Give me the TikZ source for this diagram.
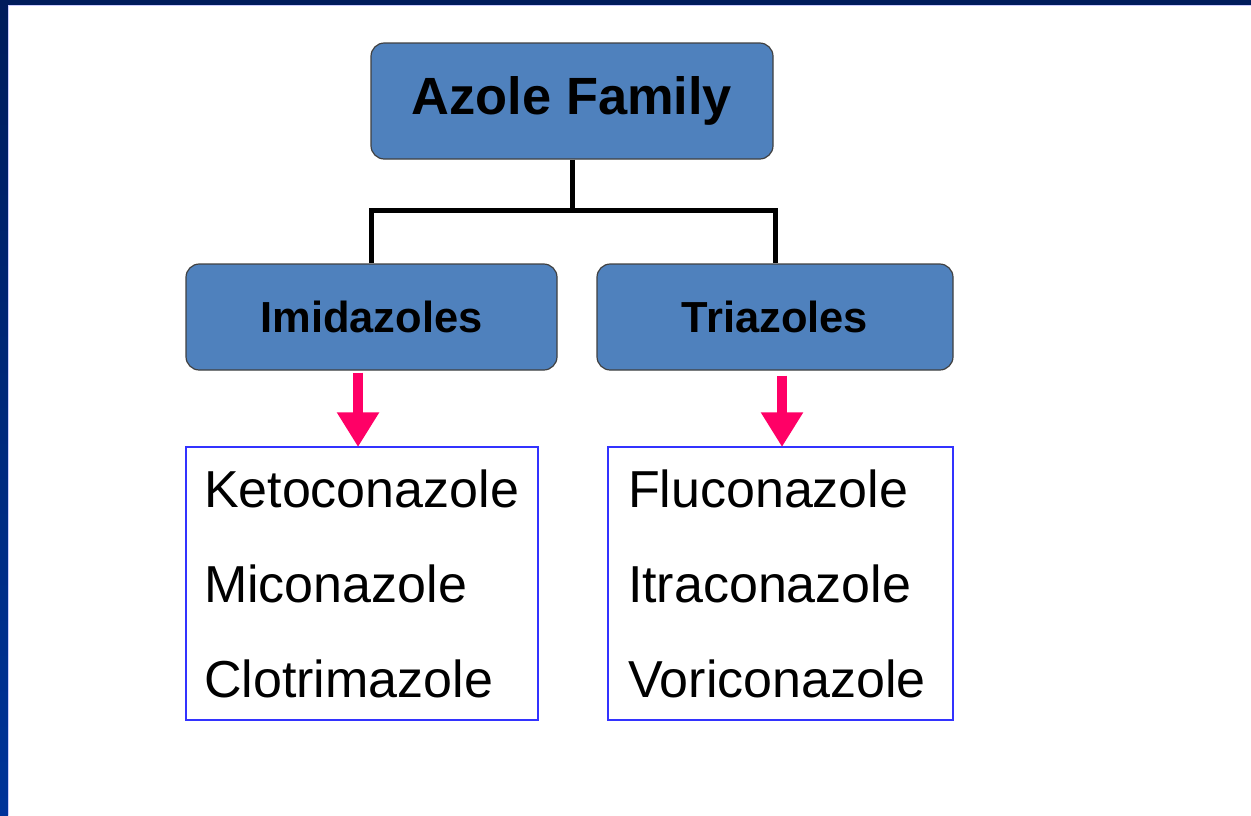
\documentclass[tikz,border=0pt]{standalone}
\usepackage{fontspec}
\setmainfont{Liberation Sans}
\usetikzlibrary{arrows.meta}
\definecolor{azblue}{HTML}{4F81BD}
\definecolor{azpink}{HTML}{FF0066}
\definecolor{azlist}{HTML}{3333FF}
\definecolor{frametop}{HTML}{001C5C}
\definecolor{frameleft}{HTML}{00339A}
\begin{document}
\begin{tikzpicture}[x=0.75pt, y=-0.75pt]
\tikzset{azbox/.style={shape=rectangle, rounded corners=10pt, draw=black!75, line width=0.9pt, fill=azblue, font=\bfseries}}
\tikzset{azlistbox/.style={shape=rectangle, draw=azlist, line width=1.3pt, align=left, anchor=north west, outer sep=0pt, inner xsep=13.5pt, inner ysep=0pt, font=\fontsize{39}{71.25}\selectfont}}
\tikzset{tree/.style={line width=3.75pt, line join=miter}}
\tikzset{azarrow/.style={azpink, line width=7.5pt, -{Triangle[width=30pt, length=26pt]}}}
\useasboundingbox (0,0) rectangle (1251,815);
% slide frame
\shade[top color=frametop, bottom color=frameleft] (0,0) rectangle (8,815);
\fill[frametop] (0,0) rectangle (1251,5);
\draw[blue!20, line width=0.6pt] (8,5) -- (1251,5);
\draw[blue!20, line width=0.6pt] (8,5) -- (8,815);
% family and groups
\node (azole) [azbox, minimum width=301.5pt, minimum height=87pt, font=\fontsize{39.3}{46}\bfseries\selectfont] at (572,101) {Azole Family};
\node (imid) [azbox, minimum width=278.25pt, minimum height=79.5pt, font=\fontsize{32.6}{38}\bfseries\selectfont] at (371.5,317) {Imidazoles};
\node (tria) [azbox, minimum width=267pt, minimum height=79.5pt, font=\fontsize{32.6}{38}\bfseries\selectfont] at (775,317) {Triazoles};
\coordinate (split) at (572,210);
\draw[tree] (azole.south) -- (split);
\draw[tree] (imid.north) |- (split) -| (tria.north);
% drug lists
\node (imidlist) [azlistbox, minimum width=264pt, minimum height=204.75pt, text width=237pt] at (186,447) {Ketoconazole\\Miconazole\\Clotrimazole};
\node (trialist) [azlistbox, minimum width=258.75pt, minimum height=204.75pt, text width=228.75pt, inner xsep=15pt] at (608,447) {Fluconazole\\Itraconazole\\Voriconazole};
% arrows
\coordinate (imidtip) at ([xshift=-10.1pt]imid.south);
\coordinate (triatip) at ([xshift=5.25pt]tria.south);
\draw[azarrow, shorten <=1.5pt] (imidtip) -- (imidtip |- imidlist.north);
\draw[azarrow, shorten <=3.75pt] (triatip) -- (triatip |- trialist.north);
\end{tikzpicture}
\end{document}
